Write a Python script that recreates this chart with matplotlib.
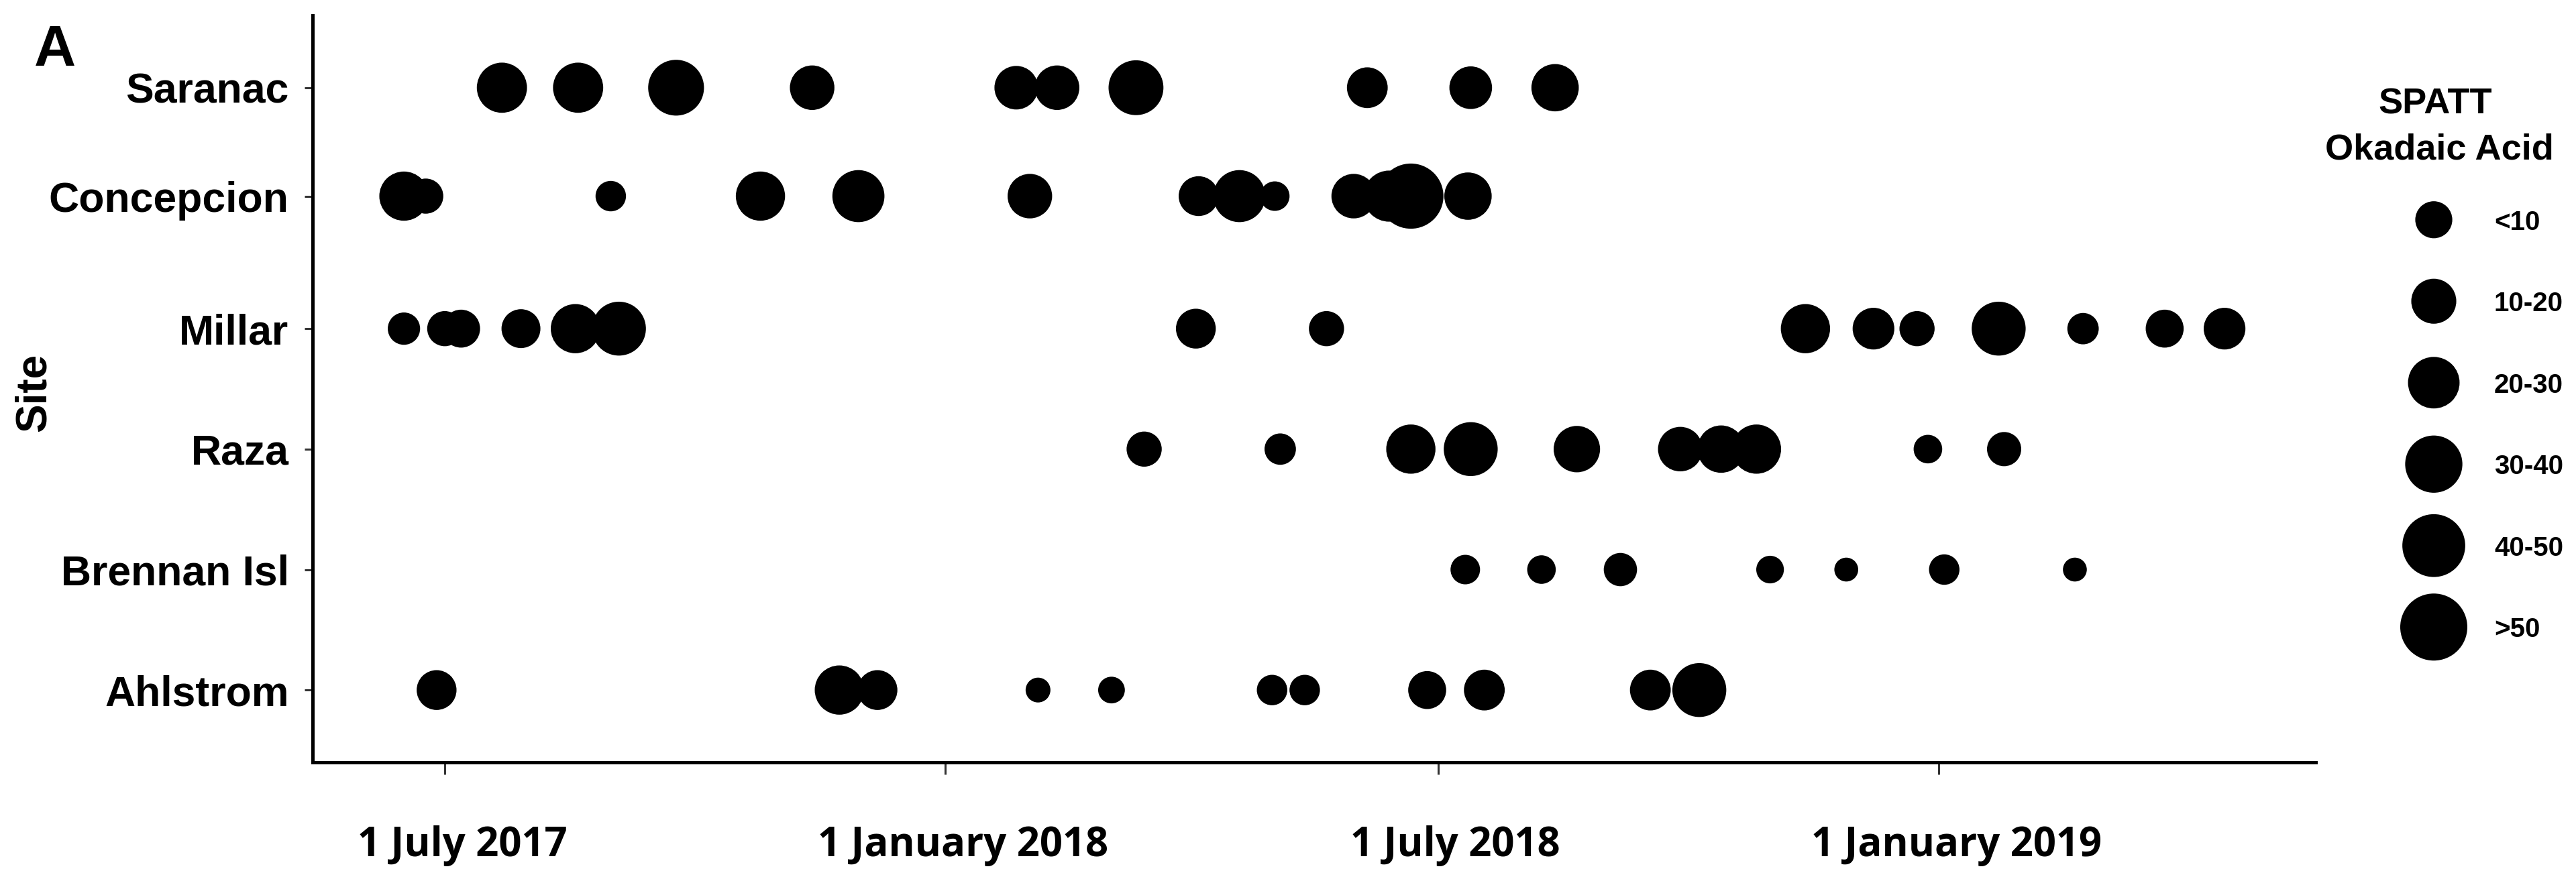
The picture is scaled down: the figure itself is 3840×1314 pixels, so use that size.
import matplotlib
matplotlib.use("Agg")
import matplotlib.pyplot as plt
import matplotlib.dates as mdates
import matplotlib.transforms as mtrans
import numpy as np
import pandas as pd

# ---------------- data ----------------
sites = ["Saranac", "Concepcion", "Millar", "Raza", "Brennan Isl", "Ahlstrom"]

saranac_dates = ["2017-07-22", "2017-08-19", "2017-09-24", "2017-11-13", "2018-01-27",
                 "2018-02-11", "2018-03-12", "2018-06-05", "2018-07-13", "2018-08-13"]
saranac_oa = [32, 32, 38, 26, 25, 26, 37, 22, 24, 29]

concepcion_dates = ["2017-06-16", "2017-06-24", "2017-08-31", "2017-10-25", "2017-11-30",
                    "2018-02-01", "2018-04-04", "2018-04-19", "2018-05-02", "2018-05-31",
                    "2018-06-13", "2018-06-21", "2018-07-12"]
concepcion_oa = [31, 16, 11, 31, 34, 26, 21, 34, 10, 26, 33, 48, 29]

millar_dates = ["2017-06-16", "2017-07-01", "2017-07-07", "2017-07-29", "2017-08-18",
                "2017-09-03", "2018-04-03", "2018-05-21", "2018-11-13", "2018-12-08",
                "2018-12-24", "2019-01-23", "2019-02-23", "2019-03-25", "2019-04-16"]
millar_oa = [13, 16, 19, 20, 31, 36, 21, 16, 31, 23, 16, 36, 12, 19, 23]

raza_dates = ["2018-03-15", "2018-05-04", "2018-06-21", "2018-07-13", "2018-08-21",
              "2018-09-28", "2018-10-13", "2018-10-26", "2018-12-28", "2019-01-25"]
raza_oa = [16, 12, 31, 36, 28, 26, 29, 31, 9, 15]

brennan_dates = ["2018-07-11", "2018-08-08", "2018-09-06", "2018-10-31", "2018-11-28",
                 "2019-01-03", "2019-02-20"]
brennan_oa = [10, 9, 14, 8, 4, 11, 4]

ahlstrom_dates = ["2017-06-28", "2017-11-23", "2017-12-07", "2018-02-04", "2018-03-03",
                  "2018-05-01", "2018-05-13", "2018-06-27", "2018-07-18", "2018-09-17",
                  "2018-10-05"]
ahlstrom_oa = [21, 31, 21, 5, 7, 11, 11, 19, 22, 22, 36]

site_dates = [saranac_dates, concepcion_dates, millar_dates, raza_dates, brennan_dates, ahlstrom_dates]
site_oa = [saranac_oa, concepcion_oa, millar_oa, raza_oa, brennan_oa, ahlstrom_oa]

tick_dates = ["2017-07-01", "2018-01-01", "2018-07-01", "2019-01-01"]
tick_labels = ["1 July 2017", "1 January 2018", "1 July 2018", "1 January 2019"]

legend_labels = ["<10", "10-20", "20-30", "30-40", "40-50", ">50"]
legend_ref_oa = [18, 26.5, 33.5, 39.5, 45.5, 50]

# ---------------- layout ----------------
DPI = 100
W, H = 3841, 1314
PT = 72.0 / DPI

def fx(px):
    return px / W

def fy(py):
    return 1 - py / H

def marker_area(v):
    d_px = 30 + 1.4 * np.asarray(v, dtype=float)
    return (d_px * PT) ** 2

site_rows = [5.0, 4.1, 3.0, 2.0, 1.0, 0.0]

fig = plt.figure(figsize=(W / DPI, H / DPI), dpi=DPI)
fig.patch.set_facecolor("white")
ax = fig.add_axes([fx(466), fy(1137), fx(3452) - fx(466), fy(23) - fy(1137)])

for row, dts, oa in zip(site_rows, site_dates, site_oa):
    x = pd.to_datetime(dts)
    ax.scatter(x, [row] * len(x), s=marker_area(oa), c="black", linewidths=0, zorder=3)

t0 = mdates.date2num(pd.Timestamp("2017-07-01"))
ax.set_xlim(t0 - 48.56, t0 + 687.5)
ax.set_ylim(-0.6, 5.6)

ax.set_xticks(pd.to_datetime(tick_dates))
ax.set_xticklabels(tick_labels, fontfamily="Open Sans", fontweight="bold", fontsize=43)
ax.set_yticks(site_rows)
ax.set_yticklabels(sites, fontfamily="Liberation Sans", fontweight="bold", fontsize=45)

for side in ["top", "right"]:
    ax.spines[side].set_visible(False)
for side in ["left", "bottom"]:
    ax.spines[side].set_linewidth(3.6)
    ax.spines[side].set_capstyle("projecting")

ax.tick_params(axis="x", length=13, width=2.2, color="#333333", pad=55)
ax.tick_params(axis="y", length=9, width=2.2, color="#333333", pad=16.5)

offset = mtrans.ScaledTranslation(26 / DPI, 0, fig.dpi_scale_trans)
for lbl in ax.get_xticklabels():
    lbl.set_transform(lbl.get_transform() + offset)

# panel letter and axis title
fig.text(fx(51), fy(98), "A", fontsize=62, fontweight="bold",
         fontfamily="Liberation Sans", ha="left", va="baseline")
fig.text(fx(68), fy(585), "Site", rotation=90, rotation_mode="anchor",
         ha="center", va="baseline", fontsize=46, fontweight="bold",
         fontfamily="Liberation Sans")

# ---------------- legend ----------------
fig.text(fx(3630), fy(170), "SPATT", ha="center", va="baseline", fontsize=39,
         fontweight="bold", fontfamily="Liberation Sans")
fig.text(fx(3636), fy(238), "Okadaic Acid", ha="center", va="baseline", fontsize=39,
         fontweight="bold", fontfamily="Liberation Sans")

lax = fig.add_axes([fx(3560), fy(996), fx(3841) - fx(3560), fy(267) - fy(996)])
lax.set_xlim(0, 1)
lax.set_ylim(len(legend_labels) - 0.5, -0.5)
lax.axis("off")
rows = np.arange(len(legend_labels))
lax.scatter([0.242] * len(rows), rows, s=marker_area(legend_ref_oa), c="black",
            linewidths=0, clip_on=False)
for r, lab in zip(rows, legend_labels):
    lax.text(0.562, r, lab, ha="left", va="center_baseline", fontsize=29,
             fontweight="bold", fontfamily="Liberation Sans")

fig.savefig("out.png", dpi=DPI, facecolor="white")
